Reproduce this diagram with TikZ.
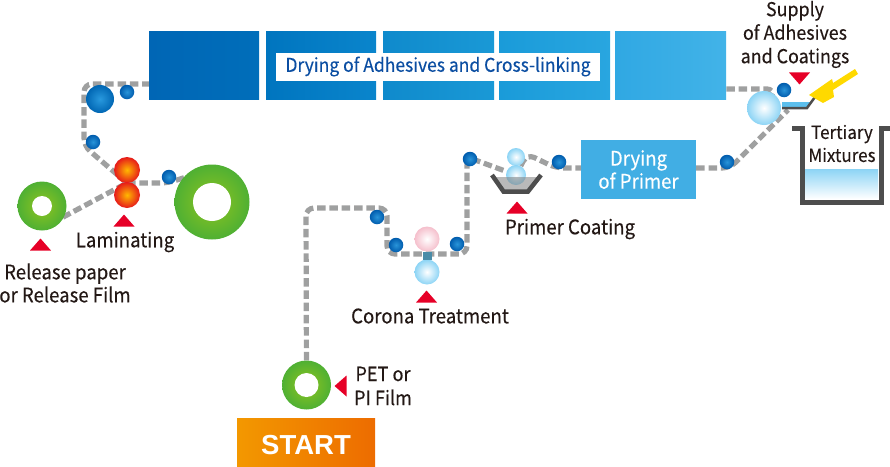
\documentclass[tikz,border=0pt]{standalone}
\usepackage{fontspec}
\setmainfont[FakeStretch=0.93,FakeBold=0.25]{Noto Sans CJK KR}
\newfontfamily\startfont{Liberation Sans}
\usetikzlibrary{shapes.geometric,backgrounds}
\definecolor{webgray}{HTML}{9FA0A0}
\definecolor{inkdark}{HTML}{231815}
\definecolor{markred}{HTML}{E60027}
\definecolor{tankdark}{HTML}{4D4D4D}
\definecolor{titleblue}{HTML}{0B4EA2}
\definecolor{paneblue}{HTML}{41AEE4}
\definecolor{idlerin}{HTML}{2994D9}
\definecolor{idlerout}{HTML}{005CAD}
\definecolor{drumin}{HTML}{2999DE}
\definecolor{drumout}{HTML}{0066B3}
\definecolor{waterout}{HTML}{8CD4F5}
\definecolor{pinkout}{HTML}{F5BFCC}
\definecolor{heatin}{HTML}{FFB800}
\definecolor{heatout}{HTML}{E61A1A}
\definecolor{greenin}{HTML}{8FC41F}
\definecolor{greenout}{HTML}{4FB033}
\definecolor{linkteal}{HTML}{4A8CA8}
\definecolor{traywater}{HTML}{5CBFED}
\definecolor{nozzle}{HTML}{FFD900}
\definecolor{startin}{HTML}{F39800}
\definecolor{startout}{HTML}{ED6C00}
\definecolor{dryA}{HTML}{0066B5}
\definecolor{dryB}{HTML}{006EBA}
\definecolor{dryC}{HTML}{0075BF}
\definecolor{dryD}{HTML}{0A85CC}
\definecolor{dryE}{HTML}{0F8ACC}
\definecolor{dryF}{HTML}{1A99D6}
\definecolor{dryG}{HTML}{1A9BD9}
\definecolor{dryH}{HTML}{29A6E0}
\definecolor{dryI}{HTML}{30A8E3}
\definecolor{dryJ}{HTML}{42B3E8}

\begin{document}
\begin{tikzpicture}[x=1pt, y=-1pt,
    web/.style={webgray,line width=5.2pt,dash pattern=on 8.5pt off 3.8pt,rounded corners=8pt},
    caption/.style={inner sep=0,text=inkdark,font=\fontsize{20}{20}\selectfont,align=center},
    ball/.style={circle,inner sep=0,minimum size=#1},
    idler/.style={ball=14.5pt,inner color=idlerin,outer color=idlerout},
    water/.style={ball=#1,inner color=white,outer color=waterout},
    heat/.style={ball=26pt,inner color=heatin,outer color=heatout},
    green roll/.style={ball=#1,inner color=greenin,outer color=greenout},
    hole/.style={ball=#1,fill=white},
    pane/.style={minimum width=#1,minimum height=68pt,inner sep=0,anchor=west},
    redmark/.style={isosceles triangle,isosceles triangle stretches,shape border rotate=#1,fill=markred,inner sep=0,minimum width=21pt,minimum height=12pt,anchor=apex}]
    \useasboundingbox (0,0) rectangle (890,466);
    \node at (149,65) [pane=110pt,left color=dryA,right color=dryB] (dry1) {};
    \node at (266,65) [pane=110pt,left color=dryC,right color=dryD] (dry2) {};
    \node at (383,65) [pane=111pt,left color=dryE,right color=dryF] (dry3) {};
    \node at (499,65) [pane=111pt,left color=dryG,right color=dryH] (dry4) {};
    \node at (615,65) [pane=111pt,left color=dryI,right color=dryJ] (dry5) {};
    \node at (438,66.5) [fill=white,minimum width=324pt,minimum height=28pt,inner sep=0,text=titleblue,font=\fontsize{18.8}{20}\selectfont] (drytitle) {Drying of Adhesives and Cross-linking};
    \node at (638.5,169.5) [fill=paneblue,minimum width=115pt,minimum height=59pt,inner sep=0,text=white,align=center,font=\fontsize{20}{23}\selectfont] (drypr) {Drying\\of Primer};

    \node at (306.5,385) [green roll=49pt] (petroll) {};
    \node at (306.5,385) [hole=24pt] (pethole) {};
    \node at (212,202) [green roll=75pt] (rewind) {};
    \node at (212,202) [hole=38pt] (rewindhole) {};
    \node at (42,206) [green roll=49pt] (relroll) {};
    \node at (42,206) [hole=20pt] (relhole) {};
    \node at (127,170) [heat] (lamA) {};
    \node at (127,195) [heat] (lamB) {};
    \node at (100,99) [ball=28pt,inner color=drumin,outer color=drumout] (bigdrum) {};
    \node at (127,92) [idler] (idl1) {};
    \node at (93,142) [idler] (idl2) {};
    \node at (169,177) [idler] (idl3) {};
    \node at (377,217) [idler] (idl4) {};
    \node at (396,245) [idler] (idl5) {};
    \node at (457,244) [idler] (idl6) {};
    \node at (470,159) [idler] (idl7) {};
    \node at (559,162) [idler] (idl8) {};
    \node at (727,162) [idler] (idl9) {};
    \node at (784,90) [idler] (idl10) {};
    \node at (427,239) [ball=25pt,inner color=white,outer color=pinkout] (corA) {};
    \node at (427,272) [water=25pt] (corB) {};
    \node at (516,157) [water=18pt] (coatA) {};
    \node at (516,175) [water=20pt] (coatB) {};
    \node at (764,108) [water=34pt] (supdrum) {};

    \coordinate (relend) at (52,223);
    \coordinate (lamnip) at (127,183);
    \coordinate (lamup) at (84,146);
    \coordinate (lamcorner) at (84,84);
    \coordinate (dryin) at (dry1.west |- 0,84);
    \coordinate (lamrun) at (168,183);
    \coordinate (rewindin) at (195,174);
    \coordinate (petup) at (306,208);
    \coordinate (petover) at (387,208);
    \coordinate (petdown) at (387,254);
    \coordinate (corrun) at (467,254);
    \coordinate (corup) at (467,157);
    \coordinate (coatout) at (527,154);
    \coordinate (coatrun) at (556,168);
    \coordinate (prin) at (drypr.west |- 0,168);
    \coordinate (prout) at (drypr.east |- 0,168);
    \coordinate (prrun) at (730,168);
    \coordinate (suplow) at (788,110);
    \coordinate (dryout) at (dry5.east |- 0,89);
    \coordinate (suptop) at (775,89);

    \begin{scope}[on background layer]
        \draw[web] (relend) -- (lamnip);
        \draw[web] (lamnip) -- (lamup) -- (lamcorner) -- (dryin);
        \draw[web] (lamnip) -- (lamrun) -- (rewindin);
        \draw[web] (petroll) -- (petup) -- (petover) -- (petdown) -- (corrun) -- (corup) -- (coatB) -- (coatout) -- (coatrun) -- (prin);
        \draw[web] (prout) -- (prrun) -- (suplow);
        \draw[web] (dryout) -- (suptop) -- (supdrum);
    \end{scope}

    \fill[linkteal] (422.5,251.5) rectangle (431.5,260);
    \fill[gray,opacity=.55] (494,177) -- (538,177) -- (527,191) -- (504,191) -- cycle;
    \draw[tankdark,line width=4.5pt] (492,175) -- (503.5,191.5) -- (528,191.5) -- (541,175);
    \fill[traywater] (782,102) -- (811,102) -- (807,107) -- (782,107) -- cycle;
    \draw[tankdark,line width=2.5pt] (782,108) -- (807,108) -- (815,97);
    \fill[nozzle] (809,95) -- (832,79) -- (833,83) -- (855,69) -- (858,74) -- (833,90) -- (834,97) -- (823,103) -- cycle;
    \shade[top color=waterout,bottom color=white] (804,169) rectangle (878,199);
    \draw[tankdark,line width=5pt] (792,128) -- (802,128) -- (802,202) -- (881,202) -- (881,128) -- (890,128);

    \node at (40.5,238) [redmark=90] (relmark) {};
    \node at (124,214) [redmark=90] (lammark) {};
    \node at (426.5,290) [redmark=90] (cormark) {};
    \node at (517,201) [redmark=90] (coatmark) {};
    \node at (799.5,85) [redmark=-90] (supmark) {};
    \node at (334,386) [redmark=180] (petmark) {};

    \node at (125,242) [caption] (lamtext) {Laminating};
    \node at (65,283) [caption,font=\fontsize{20}{23}\selectfont] (reltext) {Release paper\\or Release Film};
    \node at (430,316) [caption] (cortext) {Corona Treatment};
    \node at (570,229) [caption] (coattext) {Primer Coating};
    \node at (383,386) [caption,font=\fontsize{19.5}{24}\selectfont] (pettext) {PET or\\PI Film};
    \node at (795,34.5) [caption,font=\fontsize{19.2}{23.5}\selectfont] (suptext) {Supply\\of Adhesives\\and Coatings};
    \node at (842,143.5) [caption,font=\fontsize{18.3}{23}\selectfont] (tanktext) {Tertiary\\Mixtures};

    \node at (306,442) [left color=startin,right color=startout,minimum width=138pt,minimum height=48pt,inner sep=0,text height=24pt,text depth=0pt,text=white,font=\startfont\bfseries\fontsize{27.5}{30}\selectfont] (startbox) {START};
\end{tikzpicture}
\end{document}
